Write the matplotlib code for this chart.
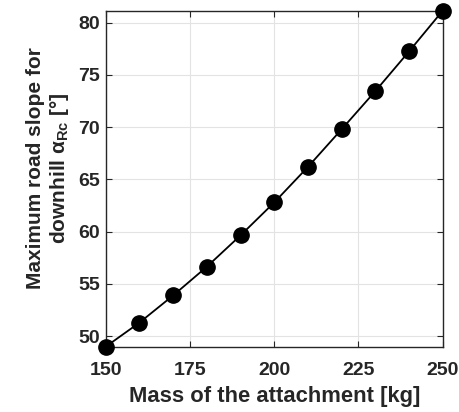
import matplotlib
matplotlib.use("Agg")
import matplotlib.pyplot as plt

mass = [150, 160, 170, 180, 190, 200, 210, 220, 230, 240, 250]
slope = [49.0, 51.3, 53.9, 56.65, 59.65, 62.8, 66.2, 69.8, 73.45, 77.25, 81.15]
xticks = [150, 175, 200, 225, 250]
yticks = [50, 55, 60, 65, 70, 75, 80]

plt.rcParams['font.family'] = ['Liberation Sans', 'DejaVu Sans']
plt.rcParams['font.weight'] = 'bold'
plt.rcParams['mathtext.fontset'] = 'custom'
plt.rcParams['mathtext.rm'] = 'Liberation Sans:bold'
plt.rcParams['mathtext.bf'] = 'Liberation Sans:bold'
plt.rcParams['mathtext.it'] = 'Liberation Sans:bold'

fig = plt.figure(figsize=(4.6, 4.12), dpi=100)
ax = fig.add_axes([0.2298, 0.1585, 0.7326, 0.8155])

ax.plot(mass, slope, color='black', lw=1.3, marker='o', ms=11, mfc='black', mec='black', clip_on=False, zorder=3)

ax.set_xlim(150, 250)
ax.set_ylim(49.0, 81.15)
ax.set_xticks(xticks)
ax.set_yticks(yticks)
ax.grid(True, color='#e3e3e3', lw=0.8)
ax.set_axisbelow(True)
ax.tick_params(direction='in', top=True, right=True, length=4, width=0.8, colors='#262626',
               labelsize=14, labelcolor='#262626')
ax.tick_params(axis='x', pad=11)
ax.tick_params(axis='y', pad=4)
for s in ax.spines.values():
    s.set_color('#262626')
    s.set_linewidth(1.0)
for lab in ax.get_xticklabels() + ax.get_yticklabels():
    lab.set_fontweight('bold')

ax.set_xlabel('Mass of the attachment [kg]', fontsize=15.8, fontweight='bold', color='#262626', labelpad=5)
ax.set_ylabel('Maximum road slope for\ndownhill $\\alpha_{\\mathrm{Rc}}$ [°]', fontsize=15,
              fontweight='bold', color='#262626', linespacing=1.2)
ax.yaxis.set_label_coords(-0.103, 0.532)

fig.savefig('out.png', dpi=100)
